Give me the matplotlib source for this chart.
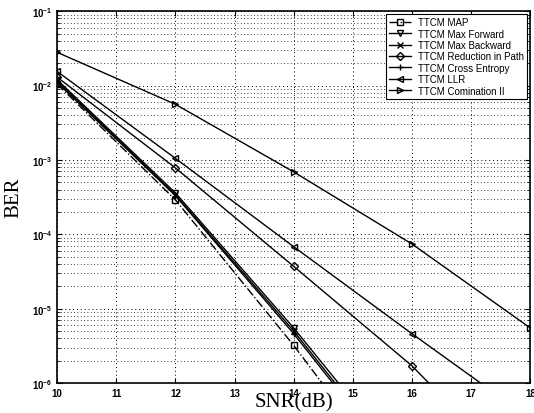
import matplotlib
matplotlib.use('Agg')
import matplotlib.pyplot as plt
from matplotlib.ticker import LogLocator, NullFormatter

# SNR points (dB)
snr = [10, 12, 14, 16, 18]

# BER per decoder (values below 1e-6 are clipped by the axes)
ber_map = [1.05e-2, 2.9e-4, 3.2e-6, 2.5e-8, 2e-10]
ber_max_forward = [1.2e-2, 3.6e-4, 5.5e-6, 6e-8, 6e-10]
ber_max_backward = [1.15e-2, 3.4e-4, 5.0e-6, 5e-8, 5e-10]
ber_reduction = [1.3e-2, 7.8e-4, 3.7e-5, 1.7e-6, 4e-8]
ber_cross_entropy = [1.1e-2, 3.3e-4, 4.6e-6, 4.5e-8, 4.5e-10]
ber_llr = [1.55e-2, 1.05e-3, 6.8e-5, 4.6e-6, 3.3e-7]
ber_comb2 = [2.8e-2, 5.6e-3, 6.9e-4, 7.4e-5, 5.5e-6]

labels = ['TTCM MAP', 'TTCM Max Forward', 'TTCM Max Backward',
          'TTCM Reduction in Path', 'TTCM Cross Entropy', 'TTCM LLR',
          'TTCM Comination II']

fig = plt.figure(figsize=(5.34, 4.14), dpi=100)
ax = fig.add_axes([0.107, 0.0725, 0.886, 0.898])

mk = dict(color='k', lw=1.0, markersize=4.5, markerfacecolor='none', markeredgewidth=1.0)
ax.semilogy(snr, ber_map, '-.', marker='s', label=labels[0], **mk)
ax.semilogy(snr, ber_max_forward, '-', marker='v', label=labels[1], **mk)
ax.semilogy(snr, ber_max_backward, '-', marker='x', label=labels[2], **mk)
ax.semilogy(snr, ber_reduction, '-', marker='D', label=labels[3], color='k', lw=1.0,
            markersize=4, markerfacecolor='none', markeredgewidth=1.0)
ax.semilogy(snr, ber_cross_entropy, '-', marker='+', label=labels[4], **mk)
ax.semilogy(snr, ber_llr, '-', marker='<', label=labels[5], **mk)
ax.semilogy(snr, ber_comb2, '-', marker='>', label=labels[6], **mk)

ax.set_xlim(10, 18)
ax.set_ylim(1e-6, 1e-1)
ax.set_xticks(range(10, 19))
ax.yaxis.set_major_locator(LogLocator(base=10, numticks=10))
ax.yaxis.set_minor_locator(LogLocator(base=10, subs=range(2, 10), numticks=20))
ax.yaxis.set_minor_formatter(NullFormatter())

dots = (0, (1, 3))
ax.grid(True, which='major', color='k', linestyle=dots, linewidth=0.7)
ax.grid(True, which='minor', axis='y', color='k', linestyle=dots, linewidth=0.6)

ax.tick_params(direction='in', which='both', labelsize=7, top=True, right=True)
for lab in ax.get_xticklabels() + ax.get_yticklabels():
    lab.set_family('Liberation Sans')
    lab.set_fontweight('bold')

ax.set_xlabel('SNR(dB)', fontsize=15, family='Liberation Serif', labelpad=-4)
ax.set_ylabel('BER', fontsize=15, family='Liberation Serif', labelpad=6)

for sp in ax.spines.values():
    sp.set_linewidth(1.2)

leg = ax.legend(loc='upper right', prop={'family': 'Liberation Sans', 'size': 7},
                fancybox=False, framealpha=1, edgecolor='k', borderaxespad=0.3,
                handlelength=2.2, labelspacing=0.15, borderpad=0.3)
leg.get_frame().set_linewidth(0.8)

plt.savefig('out.png', dpi=100)
